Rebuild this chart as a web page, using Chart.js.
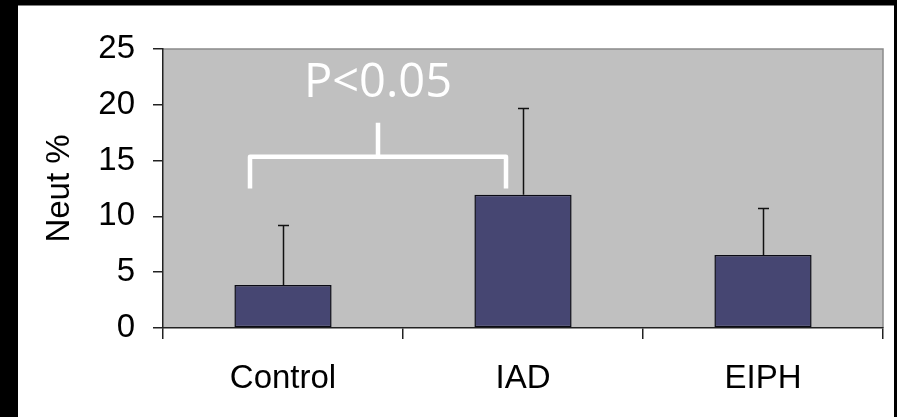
<!DOCTYPE html>
<html>
<head>
<meta charset="utf-8">
<script src="https://cdn.jsdelivr.net/npm/chart.js@4"></script>
<style>
  html, body { margin: 0; padding: 0; background: #000; }
  #wrap { width: 897px; height: 417px; position: relative; }
</style>
</head>
<body>
<div id="wrap"><canvas id="grafico" width="897" height="417"></canvas></div>
<script>
// dados
const categorias = ['Control', 'IAD', 'EIPH'];
const mediaNeut = [3.85, 11.95, 6.55];
const erroSuperior = [9.2, 19.7, 10.75];
const ticksY = [0, 5, 10, 15, 20, 25];
const textoP = 'P<0.05';

const fonte = '"Liberation Sans", Arial, sans-serif';

// fundo preto + painel branco + área cinza
const fundoPlugin = {
    id: 'fundo',
    beforeDraw(chart) {
        const { ctx, chartArea: a } = chart;
        ctx.save();
        ctx.fillStyle = '#000';
        ctx.fillRect(0, 0, chart.width, chart.height);
        ctx.fillStyle = '#fff';
        ctx.fillRect(18, 5, 876, 412);
        ctx.strokeStyle = '#808080';
        ctx.lineWidth = 1;
        ctx.beginPath();
        ctx.moveTo(18, 5.5); ctx.lineTo(894, 5.5);
        ctx.stroke();
        ctx.fillStyle = '#c0c0c0';
        ctx.fillRect(a.left, a.top, a.right - a.left, a.bottom - a.top);
        ctx.strokeStyle = '#8a8a8a';
        ctx.lineWidth = 1.5;
        ctx.beginPath();
        ctx.moveTo(a.left, a.top);
        ctx.lineTo(a.right, a.top);
        ctx.lineTo(a.right, a.bottom);
        ctx.stroke();
        ctx.restore();
    }
};

// barras de erro (só para cima), chave branca e título do eixo Y
const extrasPlugin = {
    id: 'extras',
    afterDatasetsDraw(chart) {
        const { ctx, scales: { x, y } } = chart;
        ctx.save();
        ctx.strokeStyle = '#111';
        ctx.lineWidth = 1.5;
        erroSuperior.forEach((v, i) => {
            const cx = Math.round(x.getPixelForValue(i)) + 0.5;
            const yb = y.getPixelForValue(mediaNeut[i]);
            const yt = Math.round(y.getPixelForValue(v)) + 0.5;
            ctx.beginPath();
            ctx.moveTo(cx, yb); ctx.lineTo(cx, yt);
            ctx.moveTo(cx - 5.5, yt); ctx.lineTo(cx + 5.5, yt);
            ctx.stroke();
        });

        // chave entre Control e IAD
        const xa = x.getPixelForValue(0) - 33;
        const xb = x.getPixelForValue(1) - 17;
        const xm = (xa + xb) / 2;
        const yh = y.getPixelForValue(15.35);
        const yp = y.getPixelForValue(12.5);
        const ys = y.getPixelForValue(18.4);
        ctx.strokeStyle = '#fff';
        ctx.lineWidth = 4.5;
        ctx.lineJoin = 'round';
        ctx.beginPath();
        ctx.moveTo(xa, yp); ctx.lineTo(xa, yh); ctx.lineTo(xb, yh); ctx.lineTo(xb, yp);
        ctx.moveTo(xm, yh); ctx.lineTo(xm, ys);
        ctx.stroke();

        ctx.fillStyle = '#fff';
        ctx.font = '47px "Open Sans", "DejaVu Sans", sans-serif';
        ctx.textAlign = 'center';
        ctx.textBaseline = 'alphabetic';
        ctx.fillText(textoP, xm, 97);

        // título do eixo Y
        ctx.fillStyle = '#000';
        ctx.font = '33px ' + fonte;
        ctx.translate(60, (chart.chartArea.top + chart.chartArea.bottom) / 2);
        ctx.rotate(-Math.PI / 2);
        ctx.textBaseline = 'middle';
        ctx.fillText('Neut %', 0, 0);
        ctx.restore();
    }
};

new Chart(document.getElementById('grafico'), {
    type: 'bar',
    data: {
        labels: categorias,
        datasets: [{
            data: mediaNeut,
            backgroundColor: '#464672',
            borderColor: '#0a0a14',
            borderWidth: 1.5,
            borderSkipped: false,
            barPercentage: 0.405,
            categoryPercentage: 1
        }]
    },
    options: {
        responsive: false,
        animation: false,
        layout: { padding: { left: 0, top: 49, right: 14, bottom: 0 } },
        plugins: {
            legend: { display: false },
            tooltip: { enabled: false }
        },
        scales: {
            x: {
                offset: true,
                afterFit: (s) => { s.height = 89; },
                grid: { offset: true, drawOnChartArea: false, drawTicks: true, tickLength: 11, color: '#222', lineWidth: 1.5 },
                border: { display: true, color: '#222', width: 1.5 },
                ticks: { color: '#000', padding: 20, font: { family: fonte, size: 33 } }
            },
            y: {
                min: 0,
                max: 25,
                afterFit: (s) => { s.width = 163; },
                afterBuildTicks: (s) => { s.ticks = ticksY.map(v => ({ value: v })); },
                grid: { drawOnChartArea: false, drawTicks: true, tickLength: 10, color: '#222', lineWidth: 1.5 },
                border: { display: true, color: '#222', width: 1.5 },
                ticks: { color: '#000', padding: 18, font: { family: fonte, size: 33 } }
            }
        }
    },
    plugins: [fundoPlugin, extrasPlugin]
});
</script>
</body>
</html>
